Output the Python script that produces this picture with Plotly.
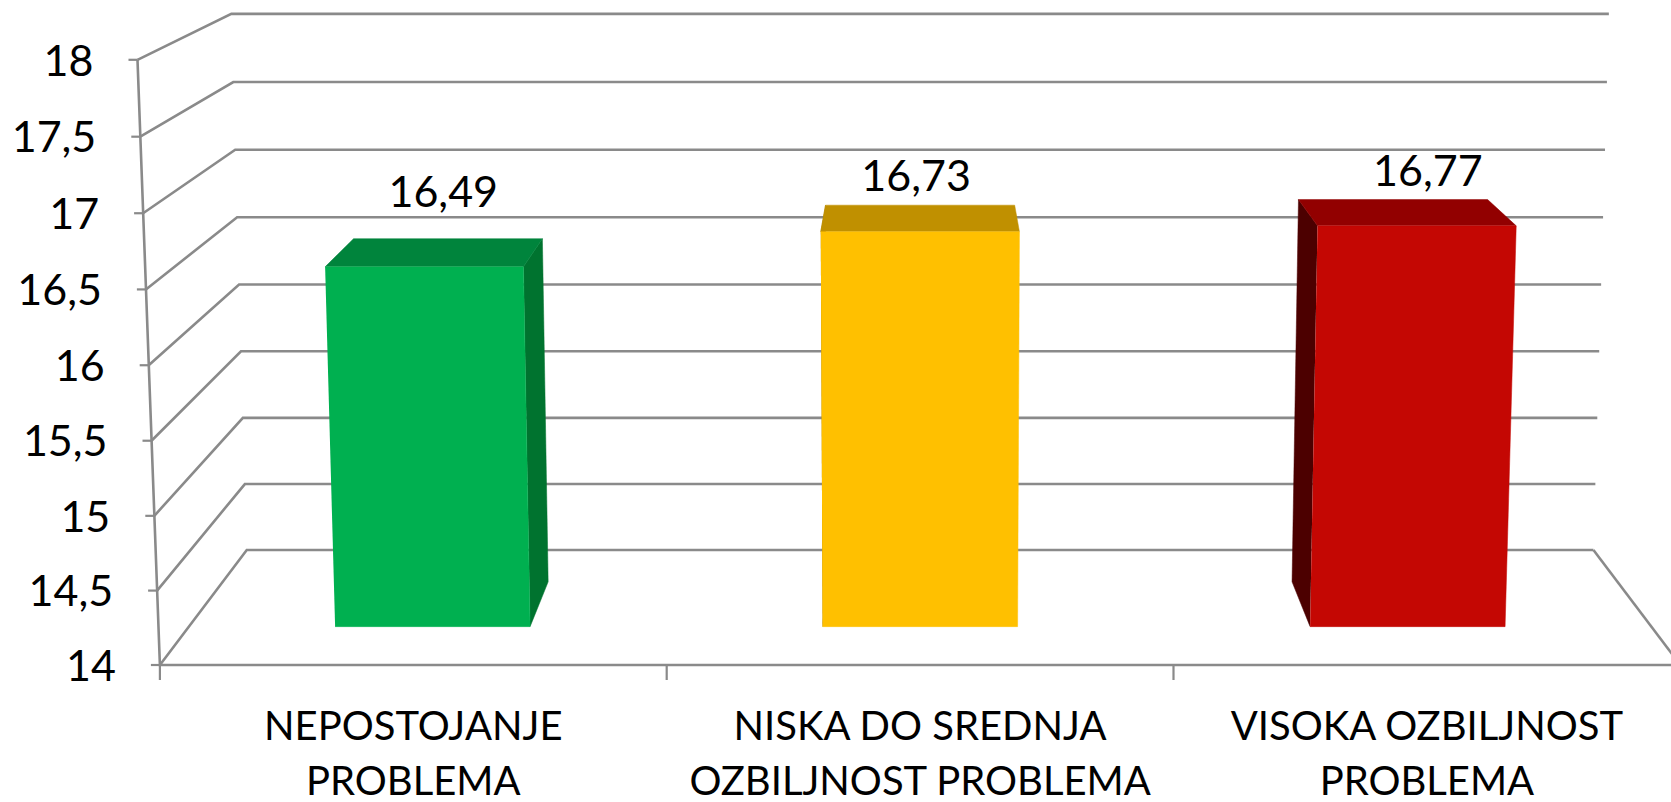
import plotly.graph_objects as go

# ---- data ----
categories = [["NEPOSTOJANJE", "PROBLEMA"],
              ["NISKA DO SREDNJA", "OZBILJNOST PROBLEMA"],
              ["VISOKA OZBILJNOST", "PROBLEMA"]]
values = [16.49, 16.73, 16.77]
value_labels = ["16,49", "16,73", "16,77"]
y_ticks = [14, 14.5, 15, 15.5, 16, 16.5, 17, 17.5, 18]
y_tick_labels = ["14", "14,5", "15", "15,5", "16", "16,5", "17", "17,5", "18"]

# ---- style ----
front_colors = ["#00B050", "#FFC000", "#C40703"]
top_colors = ["#00843C", "#C09000", "#920000"]
side_colors = ["#00732F", "#A67D00", "#4C0000"]
GRID = "#8A8A8A"
FONT = "Lato"
FSIZE_CAT = 40
FSIZE_NUM = 43

# ---- 3D view: (category, value, depth) -> front-plane axis units ----
W, H = 1671, 802
PX_X = 506.8      # pixels per category on the front plane
PX_Y = 151.3      # pixels per value unit on the front plane
X0, Y14 = 159.9, 665.0
VC, VV = 1.5, 20.655   # vanishing point
BACK = 0.129
K0, K1 = 0.00737, 0.00572


def project(c, v, d):
    k = K0 + (K1 - K0) * d
    X = VC + (c - VC) * (1 + k * (v - 14))
    Y = v - 0.0047 * (v - 14) * (18 - v)
    s = 1 / (1 + BACK * d)
    return VC + s * (X - VC), VV + s * (Y - VV)


def dx(px):
    return px / PX_X


def dy(px):
    return -px / PX_Y


def polyline(points, color=GRID, width=2.6):
    pts = [project(*p) for p in points]
    return go.Scatter(x=[p[0] for p in pts], y=[p[1] for p in pts], mode="lines",
                      line=dict(color=color, width=width), hoverinfo="skip", showlegend=False)


def face(points, color):
    pts = [project(*p) for p in points]
    return go.Scatter(x=[p[0] for p in pts], y=[p[1] for p in pts], mode="lines", fill="toself",
                      fillcolor=color, line=dict(color=color, width=0.5),
                      hoverinfo="skip", showlegend=False)


def text(xs, ys, labels, size, pos="middle center"):
    return go.Scatter(x=xs, y=ys, mode="text", text=labels, textposition=pos,
                      textfont=dict(family=FONT, size=size, color="#000000"),
                      hoverinfo="skip", showlegend=False)


fig = go.Figure()

# walls and floor
for t in y_ticks:
    fig.add_trace(polyline([(0, t, 0), (0, t, 1), (3, t, 1)]))
fig.add_trace(polyline([(3, 14, 1), (3, 14, 0)]))
fig.add_trace(polyline([(0, 18, 0), (0, 14, 0), (3, 14, 0)]))

# axis ticks
for t in y_ticks:
    x, y = project(0, t, 0)
    fig.add_trace(go.Scatter(x=[x - dx(9), x], y=[y, y], mode="lines",
                             line=dict(color=GRID, width=2.2), hoverinfo="skip", showlegend=False))
for c in [0, 1, 2]:
    x, y = project(c, 14, 0)
    fig.add_trace(go.Scatter(x=[x, x], y=[y, y + dy(15)], mode="lines",
                             line=dict(color=GRID, width=2.2), hoverinfo="skip", showlegend=False))

# bars
D0, D1 = 0.307, 0.698
for i, v in enumerate(values):
    c0, c1 = i + 0.3, i + 0.7
    side_c = c1 if c1 < VC else c0
    fig.add_trace(face([(side_c, 14, D0), (side_c, 14, D1), (side_c, v, D1), (side_c, v, D0)], side_colors[i]))
    fig.add_trace(face([(c0, v, D0), (c0, v, D1), (c1, v, D1), (c1, v, D0)], top_colors[i]))
    fig.add_trace(face([(c0, 14, D0), (c1, 14, D0), (c1, v, D0), (c0, v, D0)], front_colors[i]))

# value labels
label_nudge = [(7, -56), (-4, -38.5), (23, -37.5)]
xs, ys = [], []
for i, v in enumerate(values):
    x, y = project(i + 0.5, v, 0.5)
    xs.append(x + dx(label_nudge[i][0]))
    ys.append(y + dy(label_nudge[i][1]))
fig.add_trace(text(xs, ys, value_labels, FSIZE_NUM))

# y tick labels
xs, ys = [], []
for t in y_ticks:
    x, y = project(0, t, 0)
    xs.append(x - dx(44))
    ys.append(y + dy(5))
fig.add_trace(text(xs, ys, y_tick_labels, FSIZE_NUM, "middle left"))

# category labels
for i, lines in enumerate(categories):
    x = i + 0.5
    fig.add_trace(text([x, x], [14 + dy(65), 14 + dy(120)], lines, FSIZE_CAT))

fig.update_layout(
    width=W, height=H, margin=dict(l=0, r=0, t=0, b=0),
    paper_bgcolor="white", plot_bgcolor="white", showlegend=False,
    xaxis=dict(range=[-X0 / PX_X, (W - X0) / PX_X], visible=False),
    yaxis=dict(range=[14 - (H - Y14) / PX_Y, 14 + Y14 / PX_Y], visible=False),
)
fig.write_html("out.html", config=dict(displayModeBar=False),
               post_script="document.body.style.margin='0';document.body.style.overflow='hidden';")
